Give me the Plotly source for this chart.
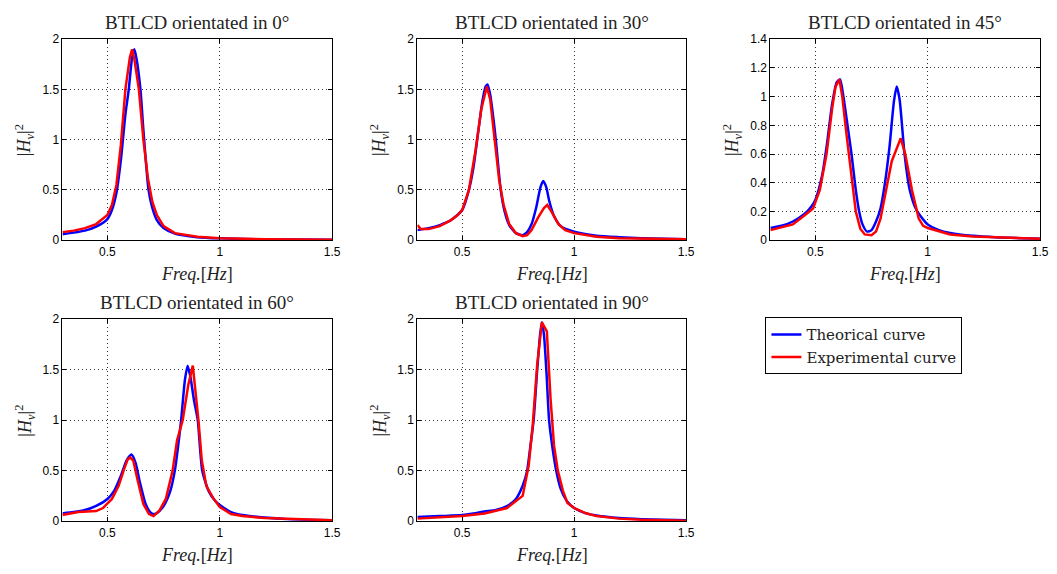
import plotly.graph_objects as go

# ---------------- data ----------------
titles = ["BTLCD orientated in 0°", "BTLCD orientated in 30°", "BTLCD orientated in 45°",
          "BTLCD orientated in 60°", "BTLCD orientated in 90°"]
y_max = [2, 2, 1.4, 2, 2]
y_step = [0.5, 0.5, 0.2, 0.5, 0.5]
x_ticks = [0.5, 1, 1.5]

# 0 deg
f_th_0 = [0.3, 0.35, 0.4, 0.45, 0.5, 0.52, 0.54, 0.56, 0.58, 0.595, 0.61, 0.62, 0.63, 0.647, 0.66, 0.683, 0.70, 0.72, 0.75, 0.8, 0.9, 1.0, 1.2, 1.5]
h_th_0 = [0.06, 0.075, 0.095, 0.135, 0.21, 0.3, 0.47, 0.8, 1.25, 1.5, 1.82, 1.9, 1.8, 1.5, 1.1, 0.5, 0.32, 0.2, 0.12, 0.065, 0.03, 0.018, 0.008, 0.004]
f_ex_0 = [0.3, 0.35, 0.4, 0.45, 0.5, 0.52, 0.54, 0.56, 0.58, 0.60, 0.61, 0.62, 0.64, 0.66, 0.68, 0.70, 0.72, 0.75, 0.8, 0.9, 1.0, 1.2, 1.5]
h_ex_0 = [0.08, 0.095, 0.12, 0.16, 0.25, 0.35, 0.55, 0.95, 1.5, 1.82, 1.9, 1.8, 1.5, 1.0, 0.62, 0.38, 0.25, 0.14, 0.07, 0.035, 0.02, 0.01, 0.005]

# 30 deg
f_th_30 = [0.3, 0.35, 0.4, 0.45, 0.5, 0.53, 0.55, 0.57, 0.59, 0.605, 0.613, 0.625, 0.64, 0.65, 0.672, 0.69, 0.71, 0.74, 0.77, 0.79, 0.81, 0.83, 0.85, 0.862, 0.875, 0.89, 0.91, 0.94, 1.0, 1.1, 1.2, 1.3, 1.5]
h_th_30 = [0.10, 0.12, 0.15, 0.2, 0.3, 0.5, 0.72, 1.05, 1.38, 1.53, 1.55, 1.45, 1.2, 1.0, 0.5, 0.28, 0.15, 0.07, 0.05, 0.08, 0.16, 0.32, 0.53, 0.59, 0.53, 0.38, 0.24, 0.14, 0.085, 0.045, 0.03, 0.02, 0.01]
f_ex_30 = [0.3, 0.315, 0.35, 0.4, 0.45, 0.48, 0.5, 0.53, 0.56, 0.585, 0.61, 0.625, 0.645, 0.665, 0.685, 0.71, 0.74, 0.77, 0.79, 0.81, 0.84, 0.865, 0.88, 0.9, 0.93, 0.96, 1.0, 1.1, 1.2, 1.5]
h_ex_30 = [0.15, 0.11, 0.11, 0.14, 0.2, 0.25, 0.30, 0.5, 0.9, 1.3, 1.53, 1.4, 1.0, 0.6, 0.35, 0.16, 0.07, 0.04, 0.05, 0.1, 0.23, 0.32, 0.35, 0.28, 0.16, 0.1, 0.07, 0.035, 0.02, 0.01]

# 45 deg
f_th_45 = [0.3, 0.35, 0.4, 0.45, 0.48, 0.5, 0.53, 0.55, 0.575, 0.595, 0.61, 0.625, 0.645, 0.661, 0.68, 0.695, 0.71, 0.73, 0.75, 0.77, 0.79, 0.81, 0.83, 0.85, 0.862, 0.875, 0.897, 0.92, 0.95, 1.0, 1.05, 1.1, 1.2, 1.3, 1.5]
h_th_45 = [0.085, 0.10, 0.13, 0.18, 0.23, 0.28, 0.45, 0.65, 0.95, 1.1, 1.12, 1.0, 0.78, 0.6, 0.35, 0.2, 0.11, 0.06, 0.07, 0.13, 0.22, 0.4, 0.65, 0.97, 1.07, 0.98, 0.6, 0.35, 0.21, 0.11, 0.07, 0.05, 0.03, 0.02, 0.01]
f_ex_45 = [0.3, 0.35, 0.4, 0.45, 0.49, 0.52, 0.55, 0.575, 0.59, 0.607, 0.62, 0.64, 0.66, 0.68, 0.70, 0.72, 0.75, 0.77, 0.79, 0.81, 0.84, 0.865, 0.88, 0.9, 0.93, 0.96, 0.98, 1.0, 1.05, 1.1, 1.2, 1.5]
h_ex_45 = [0.07, 0.09, 0.11, 0.17, 0.22, 0.35, 0.6, 0.92, 1.07, 1.12, 1.0, 0.72, 0.45, 0.2, 0.08, 0.04, 0.035, 0.06, 0.15, 0.32, 0.55, 0.65, 0.71, 0.6, 0.35, 0.15, 0.1, 0.085, 0.06, 0.04, 0.025, 0.01]

# 60 deg
f_th_60 = [0.3, 0.35, 0.4, 0.45, 0.5, 0.53, 0.56, 0.585, 0.607, 0.625, 0.645, 0.67, 0.69, 0.705, 0.72, 0.75, 0.78, 0.80, 0.815, 0.828, 0.845, 0.857, 0.87, 0.885, 0.902, 0.922, 0.95, 0.98, 1.0, 1.05, 1.1, 1.2, 1.3, 1.5]
h_th_60 = [0.077, 0.09, 0.11, 0.15, 0.22, 0.3, 0.45, 0.6, 0.66, 0.58, 0.38, 0.17, 0.09, 0.07, 0.08, 0.15, 0.3, 0.5, 0.75, 1.0, 1.4, 1.54, 1.42, 1.2, 1.0, 0.5, 0.3, 0.2, 0.16, 0.09, 0.06, 0.035, 0.02, 0.01]
f_ex_60 = [0.3, 0.33, 0.37, 0.45, 0.48, 0.52, 0.55, 0.575, 0.59, 0.602, 0.615, 0.635, 0.66, 0.685, 0.705, 0.73, 0.76, 0.79, 0.81, 0.835, 0.86, 0.88, 0.89, 0.905, 0.92, 0.94, 0.97, 1.0, 1.05, 1.1, 1.2, 1.5]
h_ex_60 = [0.06, 0.07, 0.09, 0.10, 0.13, 0.22, 0.35, 0.52, 0.61, 0.63, 0.6, 0.4, 0.17, 0.07, 0.05, 0.1, 0.22, 0.5, 0.8, 1.0, 1.35, 1.54, 1.35, 1.0, 0.6, 0.35, 0.23, 0.14, 0.07, 0.05, 0.03, 0.01]

# 90 deg
f_th_90 = [0.3, 0.4, 0.5, 0.55, 0.6, 0.65, 0.7, 0.74, 0.77, 0.79, 0.805, 0.819, 0.835, 0.848, 0.856, 0.865, 0.877, 0.888, 0.905, 0.92, 0.94, 0.967, 1.0, 1.05, 1.1, 1.2, 1.3, 1.5]
h_th_90 = [0.04, 0.05, 0.06, 0.075, 0.095, 0.11, 0.15, 0.22, 0.35, 0.5, 0.75, 1.0, 1.5, 1.85, 1.97, 1.85, 1.45, 1.0, 0.7, 0.5, 0.32, 0.2, 0.13, 0.08, 0.055, 0.03, 0.02, 0.01]
f_ex_90 = [0.3, 0.4, 0.5, 0.6, 0.65, 0.7, 0.74, 0.77, 0.797, 0.815, 0.835, 0.856, 0.878, 0.895, 0.91, 0.927, 0.95, 0.97, 1.0, 1.05, 1.1, 1.2, 1.3, 1.5]
h_ex_90 = [0.025, 0.035, 0.05, 0.075, 0.1, 0.13, 0.2, 0.25, 0.55, 0.95, 1.55, 1.97, 1.88, 1.2, 0.75, 0.5, 0.3, 0.18, 0.13, 0.08, 0.05, 0.025, 0.015, 0.005]

theory = [(f_th_0, h_th_0), (f_th_30, h_th_30), (f_th_45, h_th_45), (f_th_60, h_th_60), (f_th_90, h_th_90)]
exper = [(f_ex_0, h_ex_0), (f_ex_30, h_ex_30), (f_ex_45, h_ex_45), (f_ex_60, h_ex_60), (f_ex_90, h_ex_90)]

# ---------------- layout ----------------
W, H = 1057, 574
px_x = [(63, 335), (421, 692), (777, 1049), (63, 335), (421, 692)]
px_y = [(33, 239), (33, 239), (33, 239), (320, 527), (320, 527)]

serif = "Liberation Serif"
sans = "Liberation Sans"

fig = go.Figure()
layout = dict(width=W, height=H, margin=dict(l=0, r=0, t=0, b=0),
              paper_bgcolor="white", plot_bgcolor="white", annotations=[])

for i in range(5):
    n = "" if i == 0 else str(i + 1)
    xa, ya = "x" + n, "y" + n
    fig.add_trace(go.Scatter(x=theory[i][0], y=theory[i][1], mode="lines", line=dict(color="#0000ff", width=2.5, shape="spline", smoothing=0.6),
                             name="Theorical curve", showlegend=(i == 0), xaxis=xa, yaxis=ya))
    fig.add_trace(go.Scatter(x=exper[i][0], y=exper[i][1], mode="lines", line=dict(color="#ff0000", width=2.5),
                             name="Experimental curve", showlegend=(i == 0), xaxis=xa, yaxis=ya))
    x0, x1 = px_x[i][0] / W, px_x[i][1] / W
    y0, y1 = 1 - px_y[i][1] / H, 1 - px_y[i][0] / H
    common = dict(showline=True, linecolor="black", linewidth=1, mirror="ticks", ticks="inside", ticklen=4,
                  tickcolor="black", showgrid=True, gridcolor="#333", griddash="1px,3px", gridwidth=1,
                  zeroline=False, tickfont=dict(family=sans, size=12, color="black"))
    layout["xaxis" + n] = dict(domain=[x0, x1], range=[0.3, 1.5], tickvals=x_ticks, ticktext=["0.5", "1", "1.5"],
                               anchor=ya, **common)
    yt = [round(k * y_step[i], 2) for k in range(int(round(y_max[i] / y_step[i])) + 1)]
    layout["yaxis" + n] = dict(domain=[y0, y1], range=[0, y_max[i]], tickvals=yt,
                               ticktext=[("%g" % v) for v in yt], anchor=xa, **common)
    xc = (x0 + x1) / 2
    layout["annotations"].append(dict(text=titles[i], x=xc, y=y1, xref="paper", yref="paper", xanchor="center",
                                      yanchor="bottom", yshift=4, showarrow=False,
                                      font=dict(family=serif, size=19, color="#222")))
    layout["annotations"].append(dict(text="<i>Freq.</i>[<i>Hz</i>]", x=xc, y=y0, xref="paper", yref="paper",
                                      xanchor="center", yanchor="middle", yshift=-34, showarrow=False,
                                      font=dict(family=serif, size=18, color="#222")))
    layout["annotations"].append(dict(text="|<i>H<sub>v</sub></i>|<sup>2</sup>", x=x0, y=(y0 + y1) / 2,
                                      xref="paper", yref="paper", xanchor="center", yanchor="middle",
                                      xshift=-38, textangle=-90, showarrow=False,
                                      font=dict(family=serif, size=18, color="#222")))

layout["legend"] = dict(x=772 / W, y=1 - 318 / H, xanchor="left", yanchor="top", bordercolor="black",
                        borderwidth=1, bgcolor="white", font=dict(family="DejaVu Serif", size=15, color="#222"),
                        tracegroupgap=0, itemwidth=30)
fig.update_layout(**layout)
fig.write_html("out.html")
